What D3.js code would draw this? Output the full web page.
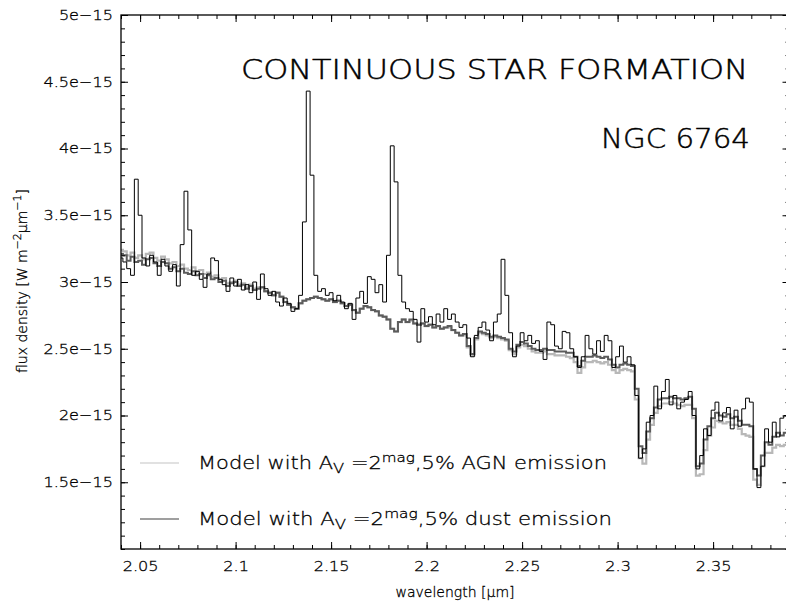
<!DOCTYPE html>
<html>
<head>
<meta charset="utf-8">
<script src="https://cdn.jsdelivr.net/npm/d3@7"></script>
<style>
  body { margin: 0; background: #fff; }
  svg { display: block; }
  text { font-family: "DejaVu Sans", "Liberation Sans", sans-serif; font-weight: 200; fill: #000; stroke: #000; stroke-width: 0.3; }
  .big { stroke-width: 0.45; }
  .axis path { display: none; }
  .axis line { stroke: #000; stroke-width: 1; }
</style>
</head>
<body>
<svg id="chart" width="786" height="604"></svg>
<script>
"use strict";

/******************************
*** DATA (units of 1e-15) ***
******************************/

// wavelength grid, start + step (micron)
var lambdaStart = 2.040;
var lambdaStep = 0.002;

// observed spectrum (black)
var observed = [
  3.18, 3.15, 3.10, 3.05, 3.77, 3.50, 3.18, 3.12, 3.20, 3.15,
  3.05, 3.17, 3.12, 3.08, 3.13, 2.97, 3.28, 3.68, 3.39, 3.05,
  3.08, 3.02, 2.96, 3.06, 3.18, 3.16, 3.02, 2.98, 2.93, 3.03,
  2.97, 3.02, 2.94, 2.98, 2.92, 3.00, 2.87, 3.06, 2.95, 2.90,
  2.93, 2.85, 2.82, 2.88, 2.84, 2.78, 2.80, 2.90, 3.45, 4.43,
  3.80, 3.05, 2.93, 2.95, 2.90, 2.92, 2.86, 2.90, 2.85, 2.80,
  2.84, 2.72, 2.88, 2.93, 2.84, 3.04, 3.02, 2.92, 2.98, 2.85,
  3.20, 4.02, 3.75, 3.05, 2.85, 2.80, 2.78, 2.72, 2.55, 2.80,
  2.70, 2.74, 2.68, 2.76, 2.70, 2.80, 2.72, 2.76, 2.70, 2.66,
  2.68, 2.58, 2.44, 2.60, 2.66, 2.70, 2.64, 2.56, 2.70, 2.76,
  3.17, 2.90, 2.62, 2.44, 2.52, 2.62, 2.56, 2.60, 2.54, 2.56,
  2.48, 2.42, 2.70, 2.68, 2.52, 2.50, 2.63, 2.62, 2.50, 2.44,
  2.36, 2.44, 2.60, 2.50, 2.46, 2.56, 2.48, 2.60, 2.56, 2.36,
  2.44, 2.52, 2.40, 2.44, 2.38, 2.15, 1.68, 1.75, 1.95, 2.00,
  2.22, 2.05, 2.18, 2.27, 2.08, 2.15, 2.05, 2.10, 2.12, 2.18,
  2.00, 1.60, 1.70, 1.90, 1.85, 2.04, 2.10, 1.96, 2.02, 2.06,
  1.90, 2.04, 1.92, 2.05, 2.13, 2.10, 1.60, 1.46, 1.62, 1.90,
  1.80, 1.95, 1.84, 1.98, 2.00, 1.95
];

// model with 5% AGN emission (light gray)
var modelAgn = [
  3.24, 3.23, 3.20, 3.22, 3.18, 3.20, 3.17, 3.21, 3.22, 3.18,
  3.16, 3.19, 3.17, 3.14, 3.15, 3.12, 3.13, 3.10, 3.09, 3.11,
  3.08, 3.09, 3.06, 3.07, 3.04, 3.05, 3.02, 3.03, 2.99, 3.00,
  3.01, 2.98, 2.99, 2.96, 2.98, 2.95, 2.96, 2.96, 2.93, 2.92,
  2.90, 2.92, 2.89, 2.85, 2.83, 2.81, 2.80, 2.84, 2.86, 2.87,
  2.88, 2.89, 2.88, 2.87, 2.86, 2.87, 2.85, 2.86, 2.84, 2.82,
  2.83, 2.79, 2.77, 2.80, 2.82, 2.81, 2.79, 2.78, 2.75, 2.74,
  2.72, 2.65, 2.63, 2.70, 2.72, 2.70, 2.71, 2.69, 2.68, 2.69,
  2.67, 2.68, 2.66, 2.67, 2.65, 2.66, 2.66, 2.64, 2.62, 2.60,
  2.60, 2.51, 2.45, 2.57, 2.62, 2.61, 2.60, 2.58, 2.59, 2.58,
  2.57, 2.56, 2.49, 2.46, 2.51, 2.53, 2.52, 2.50, 2.48, 2.47,
  2.47, 2.48, 2.46, 2.46, 2.45, 2.45, 2.45, 2.44, 2.43, 2.40,
  2.32, 2.36, 2.40, 2.40, 2.41, 2.40, 2.39, 2.40, 2.38, 2.34,
  2.32, 2.34, 2.35, 2.34, 2.33, 2.12, 1.68, 1.64, 1.82, 1.93,
  2.02, 2.07, 2.09, 2.09, 2.10, 2.09, 2.08, 2.07, 2.08, 2.08,
  1.98, 1.55, 1.56, 1.74, 1.85, 1.91, 1.96, 1.95, 1.94, 1.95,
  1.93, 1.93, 1.90, 1.86, 1.85, 1.84, 1.52, 1.48, 1.62, 1.72,
  1.72, 1.76, 1.78, 1.77, 1.78, 1.78
];

// model with 5% dust emission (dark gray)
var modelDust = [
  3.21, 3.20, 3.16, 3.19, 3.15, 3.16, 3.13, 3.17, 3.18, 3.14,
  3.12, 3.15, 3.14, 3.10, 3.11, 3.08, 3.10, 3.07, 3.06, 3.08,
  3.05, 3.06, 3.03, 3.05, 3.02, 3.03, 3.00, 3.01, 2.97, 2.99,
  3.00, 2.97, 2.98, 2.95, 2.97, 2.94, 2.95, 2.96, 2.93, 2.92,
  2.90, 2.92, 2.89, 2.85, 2.83, 2.81, 2.80, 2.84, 2.86, 2.87,
  2.88, 2.89, 2.88, 2.87, 2.86, 2.87, 2.85, 2.86, 2.84, 2.82,
  2.83, 2.79, 2.77, 2.80, 2.82, 2.81, 2.79, 2.78, 2.75, 2.74,
  2.72, 2.65, 2.63, 2.70, 2.72, 2.70, 2.72, 2.69, 2.68, 2.69,
  2.67, 2.68, 2.66, 2.67, 2.65, 2.66, 2.67, 2.64, 2.62, 2.60,
  2.61, 2.52, 2.46, 2.58, 2.63, 2.62, 2.61, 2.59, 2.60, 2.59,
  2.58, 2.57, 2.50, 2.48, 2.53, 2.55, 2.54, 2.52, 2.50, 2.49,
  2.49, 2.50, 2.49, 2.49, 2.48, 2.48, 2.48, 2.47, 2.47, 2.44,
  2.37, 2.41, 2.44, 2.44, 2.45, 2.44, 2.43, 2.44, 2.42, 2.38,
  2.36, 2.38, 2.39, 2.38, 2.37, 2.20, 1.77, 1.72, 1.88, 1.98,
  2.06, 2.12, 2.13, 2.13, 2.14, 2.13, 2.13, 2.12, 2.13, 2.14,
  2.05, 1.62, 1.64, 1.82, 1.92, 1.98, 2.02, 2.00, 1.99, 2.01,
  1.98, 1.99, 1.96, 1.93, 1.93, 1.92, 1.60, 1.55, 1.70, 1.80,
  1.78, 1.84, 1.87, 1.85, 1.87, 1.86
];

// tick values
var xMajor = [2.05, 2.1, 2.15, 2.2, 2.25, 2.3, 2.35];
var yMajor = [1.5, 2, 2.5, 3, 3.5, 4, 4.5, 5];

// legend entries
var legendRows = [
  { color: "#c4c4c4", tail: ",5% AGN emission", width: 409 },
  { color: "#404040", tail: ",5% dust emission", width: 414 }
];


/**********************
*** SCALES & LAYOUT ***
**********************/

var plotL = 121, plotR = 789.5, plotT = 15, plotB = 549;

var x = d3.scaleLinear().domain([2.04, 2.39]).range([plotL, plotR]);
var y = d3.scaleLinear().domain([1, 5]).range([plotB, plotT]);

var svg = d3.select("#chart");

// minor ticks every 0.01 / 0.1
var xMinor = d3.range(2.04, 2.3901, 0.01).map(function(d) { return +d.toFixed(2); });
var yMinor = d3.range(1, 5.001, 0.1).map(function(d) { return +d.toFixed(1); });

var fmtX = function(d) { return String(+d.toFixed(2)); };
var fmtY = function(d) { return d + "e\u221215"; };

// widen glyphs a bit, the original font is a wide stroke font
var stretch = function(sel, factor) {
  sel.each(function() {
    var w = this.getComputedTextLength();
    d3.select(this).attr("textLength", w * factor).attr("lengthAdjust", "spacingAndGlyphs");
  });
};

svg.append("defs").append("clipPath").attr("id", "plotclip")
  .append("rect")
  .attr("x", plotL).attr("y", plotT)
  .attr("width", plotR - plotL).attr("height", plotB - plotT);


/**************
*** SPECTRA ***
**************/

var toPoints = function(arr) {
  return arr.map(function(v, i) { return [lambdaStart + i * lambdaStep, v]; });
};

var line = d3.line()
  .x(function(d) { return x(d[0]); })
  .y(function(d) { return y(d[1]); })
  .curve(d3.curveStep);

var spectra = svg.append("g").attr("clip-path", "url(#plotclip)");

spectra.append("path")
  .attr("d", line(toPoints(modelAgn)))
  .attr("fill", "none").attr("stroke", "#b8b8b8").attr("stroke-width", 2.2);

spectra.append("path")
  .attr("d", line(toPoints(modelDust)))
  .attr("fill", "none").attr("stroke", "#5c5c5c").attr("stroke-width", 2);

spectra.append("path")
  .attr("d", line(toPoints(observed)))
  .attr("fill", "none").attr("stroke", "#000").attr("stroke-width", 1);


/***********
*** AXES ***
***********/

// bottom, labelled
svg.append("g").attr("class", "axis")
  .attr("transform", "translate(0," + plotB + ")")
  .call(d3.axisBottom(x).tickValues(xMajor).tickSize(-7).tickPadding(12).tickFormat(fmtX))
  .selectAll("text").attr("font-size", 14).call(stretch, 1.15);

svg.append("g").attr("class", "axis")
  .attr("transform", "translate(0," + plotB + ")")
  .call(d3.axisBottom(x).tickValues(xMinor).tickSize(-4).tickFormat(""));

// top, ticks only
svg.append("g").attr("class", "axis")
  .attr("transform", "translate(0," + plotT + ")")
  .call(d3.axisTop(x).tickValues(xMajor).tickSize(-7).tickFormat(""));

svg.append("g").attr("class", "axis")
  .attr("transform", "translate(0," + plotT + ")")
  .call(d3.axisTop(x).tickValues(xMinor).tickSize(-4).tickFormat(""));

// left, labelled
svg.append("g").attr("class", "axis")
  .attr("transform", "translate(" + plotL + ",0)")
  .call(d3.axisLeft(y).tickValues(yMajor).tickSize(-7).tickPadding(8).tickFormat(fmtY))
  .selectAll("text").attr("font-size", 14).call(stretch, 1.15);

svg.append("g").attr("class", "axis")
  .attr("transform", "translate(" + plotL + ",0)")
  .call(d3.axisLeft(y).tickValues(yMinor).tickSize(-4).tickFormat(""));

// right, ticks only
svg.append("g").attr("class", "axis")
  .attr("transform", "translate(" + plotR + ",0)")
  .call(d3.axisRight(y).tickValues(yMajor).tickSize(-7).tickFormat(""));

svg.append("g").attr("class", "axis")
  .attr("transform", "translate(" + plotR + ",0)")
  .call(d3.axisRight(y).tickValues(yMinor).tickSize(-4).tickFormat(""));

// frame
svg.append("rect")
  .attr("x", plotL).attr("y", plotT)
  .attr("width", plotR - plotL).attr("height", plotB - plotT)
  .attr("fill", "none").attr("stroke", "#000").attr("stroke-width", 1.3);

// axis titles
var xt = svg.append("text")
  .attr("x", 455).attr("y", 597)
  .attr("text-anchor", "middle").attr("font-size", 14);
xt.append("tspan").text("wavelength [");
xt.append("tspan").text("\u03bcm");
xt.append("tspan").text("]");

var yt = svg.append("text")
  .attr("transform", "translate(27,281) rotate(-90)")
  .attr("text-anchor", "middle").attr("font-size", 14);
yt.append("tspan").text("flux density [W m");
yt.append("tspan").attr("baseline-shift", "super").attr("font-size", 11).text("\u22122");
yt.append("tspan").text("\u03bcm");
yt.append("tspan").attr("baseline-shift", "super").attr("font-size", 11).text("\u22121");
yt.append("tspan").text("]");


/*********************
*** TITLE & LEGEND ***
*********************/

svg.append("text")
  .attr("class", "big")
  .attr("x", 241).attr("y", 79)
  .attr("font-size", 26)
  .attr("textLength", 507).attr("lengthAdjust", "spacingAndGlyphs")
  .text("CONTINUOUS STAR FORMATION");

svg.append("text")
  .attr("class", "big")
  .attr("x", 601).attr("y", 148)
  .attr("font-size", 26)
  .attr("textLength", 149).attr("lengthAdjust", "spacingAndGlyphs")
  .text("NGC 6764");

var legend = svg.append("g");

legendRows.forEach(function(r, i) {
  var ly = 463 + i * 56;

  legend.append("line")
    .attr("x1", 140).attr("x2", 179)
    .attr("y1", ly).attr("y2", ly)
    .attr("stroke", r.color).attr("stroke-width", 1.2);

  var t = legend.append("text")
    .attr("x", 198).attr("y", ly + 6)
    .attr("font-size", 18)
    .attr("textLength", r.width).attr("lengthAdjust", "spacingAndGlyphs");
  t.append("tspan").text("Model with A");
  t.append("tspan").attr("baseline-shift", "-30%").attr("font-size", 14).text("V");
  t.append("tspan").text(" =2");
  t.append("tspan").attr("baseline-shift", "super").attr("font-size", 13).text("mag");
  t.append("tspan").text(r.tail);
});
</script>
</body>
</html>
